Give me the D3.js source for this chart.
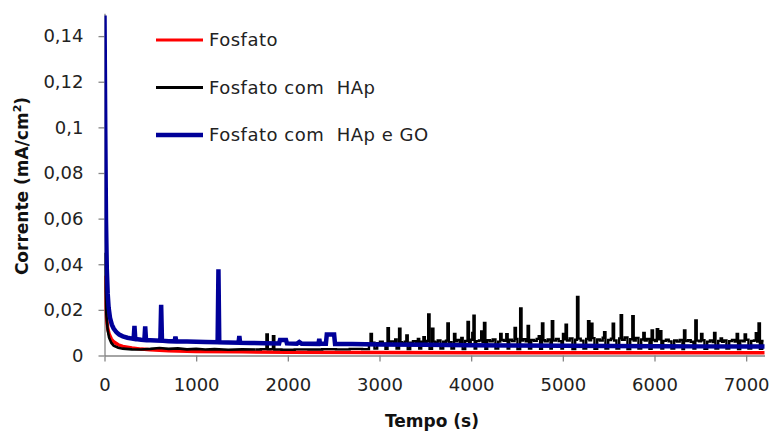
<!DOCTYPE html>
<html><head><meta charset="utf-8">
<script src="https://cdn.jsdelivr.net/npm/d3@7"></script>
<style>
body{margin:0;background:#fff}
svg{display:block}
text{font-family:"DejaVu Sans",Verdana,sans-serif}
</style>
</head><body>
<svg id="chart" width="772" height="432"></svg>
<script>
// ---------- data ----------
const seriesNames = ["Fosfato", "Fosfato com  HAp", "Fosfato com  HAp e GO"];
const seriesColors = ["#ff0000", "#000000", "#000099"];
const xTicks = [0, 1000, 2000, 3000, 4000, 5000, 6000, 7000];
const yTicks = [0, 0.02, 0.04, 0.06, 0.08, 0.1, 0.12, 0.14];
const xTitle = "Tempo (s)";
const yTitle = "Corrente (mA/cm";

// Fosfato (red)
const fosfatoTime  = [0, 10, 20, 35, 50, 75, 100, 150, 200, 300, 400, 500, 700, 1000, 1500, 2000, 3000, 4000, 5000, 6000, 7200];
const fosfatoValue = [0.035, 0.024, 0.017, 0.012, 0.0095, 0.0072, 0.006, 0.0047, 0.004, 0.0033, 0.0028, 0.0025, 0.0021, 0.0018, 0.0016, 0.0014, 0.0013, 0.0012, 0.0012, 0.0012, 0.0012];

// Fosfato com HAp (black) - early decay part
const hapTime  = [0, 10, 20, 35, 50, 75, 100, 150, 200, 300, 400, 500, 600, 700, 800, 900, 1000, 1100, 1200, 1350, 1500, 1650, 1760, 1790, 1830, 1860, 2000, 2150, 2300, 2450, 2600, 2750, 2870];
const hapValue = [0.045, 0.028, 0.018, 0.011, 0.0078, 0.0055, 0.0043, 0.0034, 0.003, 0.0027, 0.0026, 0.0029, 0.0033, 0.0029, 0.0031, 0.0027, 0.0029, 0.0026, 0.0028, 0.0025, 0.0027, 0.0026, 0.0028, 0.0027, 0.0028, 0.0026, 0.0025, 0.0027, 0.0026, 0.0028, 0.0027, 0.0029, 0.0028];
// Fosfato com HAp (black) - noisy part, one reading every 30 s from 2900 s
const hapNoiseStart = 2900;
const hapNoiseStep = 30;
const hapNoise = [
  0.0050,0.0056,0.0030,0.0054,0.0060,0.0052,0.0029,0.0057,0.0062,0.0055,
  0.0031,0.0058,0.0054,0.0061,0.0028,0.0056,0.0063,0.0057,0.0030,0.0060,
  0.0058,0.0064,0.0029,0.0061,0.0057,0.0066,0.0031,0.0060,0.0065,0.0058,
  0.0030,0.0062,0.0068,0.0059,0.0028,0.0064,0.0060,0.0069,0.0031,0.0063,
  0.0066,0.0060,0.0029,0.0067,0.0062,0.0070,0.0030,0.0061,0.0068,0.0064,
  0.0031,0.0069,0.0063,0.0072,0.0028,0.0066,0.0071,0.0062,0.0030,0.0068,
  0.0064,0.0073,0.0029,0.0067,0.0062,0.0070,0.0031,0.0065,0.0072,0.0063,
  0.0030,0.0071,0.0066,0.0075,0.0028,0.0069,0.0074,0.0065,0.0031,0.0072,
  0.0067,0.0076,0.0029,0.0070,0.0065,0.0078,0.0030,0.0068,0.0074,0.0066,
  0.0031,0.0075,0.0069,0.0079,0.0028,0.0071,0.0066,0.0077,0.0030,0.0070,
  0.0065,0.0072,0.0029,0.0068,0.0063,0.0071,0.0031,0.0064,0.0069,0.0062,
  0.0030,0.0066,0.0061,0.0068,0.0028,0.0063,0.0067,0.0060,0.0031,0.0065,
  0.0062,0.0067,0.0029,0.0061,0.0066,0.0059,0.0030,0.0064,0.0060,0.0066,
  0.0031,0.0063,0.0068,0.0061,0.0028,0.0065,0.0062,0.0069,0.0030,0.0064,
  0.0066,0.0061,0.0029,0.0064
];
// Fosfato com HAp (black) - spikes
const hapSpikeTime  = [1773,1845,2905,3095,3172,3227,3296,3427,3488,3532,3586,3742,3826,3895,3971,4014,4036,4119,4150,4324,4396,4487,4549,4622,4744,4785,4880,5003,5030,5160,5280,5316,5450,5548,5632,5766,5886,5977,6030,6070,6324,6451,6516,6650,6733,6903,6987,7110,7140];
const hapSpikeValue = [0.0092,0.0085,0.0095,0.012,0.007,0.0117,0.0088,0.0073,0.008,0.018,0.0117,0.014,0.0095,0.0077,0.0147,0.0099,0.0175,0.0105,0.0143,0.0095,0.0093,0.0121,0.0206,0.0129,0.0085,0.014,0.015,0.0095,0.0135,0.0257,0.015,0.0139,0.0102,0.0139,0.0177,0.0172,0.0099,0.011,0.0115,0.0107,0.011,0.0154,0.0095,0.0099,0.0075,0.0095,0.0092,0.0098,0.014];

// Fosfato com HAp e GO (blue)
const goTime  = [0,8,16,25,35,45,60,80,100,130,160,200,250,300,318,327,336,360,400,435,444,453,500,560,609,618,627,700,765,774,783,900,1000,1100,1234,1243,1252,1350,1462,1471,1480,1600,1750,1905,1915,1980,1990,2100,2125,2150,2334,2343,2352,2415,2425,2505,2515,2700,3000,3500,4000,4500,5000,5500,6000,6500,7000,7200];
const goValue = [0.149,0.1,0.06,0.038,0.027,0.021,0.0165,0.0135,0.0118,0.0102,0.0092,0.0084,0.0078,0.0074,0.0073,0.013,0.0072,0.0071,0.0069,0.0068,0.0128,0.0068,0.0067,0.0066,0.0065,0.0222,0.0065,0.0063,0.0062,0.0083,0.0062,0.0061,0.006,0.0059,0.0058,0.0378,0.0058,0.0057,0.0056,0.0085,0.0056,0.0055,0.0054,0.0053,0.0068,0.0068,0.0053,0.0052,0.0059,0.0052,0.0051,0.0073,0.0051,0.0051,0.0092,0.0092,0.005,0.005,0.0048,0.0047,0.0045,0.0044,0.0043,0.0042,0.0041,0.004,0.004,0.0039];

// ---------- build tables ----------
const fosfatoData = fosfatoTime.map((t, i) => ({t, v: fosfatoValue[i]}));
const hapData = hapTime.map((t, i) => ({t, v: hapValue[i]}))
  .concat(hapNoise.map((v, i) => ({t: hapNoiseStart + i * hapNoiseStep, v})))
  .concat(hapSpikeTime.map((t, i) => ({t, v: hapSpikeValue[i]})))
  .sort((a, b) => a.t - b.t);
const hapSmooth = hapData.filter(d => d.t <= 1650);
const hapNoisy = hapData.filter(d => d.t >= 1650);
const goData = goTime.map((t, i) => ({t, v: goValue[i]}));

// ---------- chart ----------
const svg = d3.select("#chart");
const x = d3.scaleLinear().domain([0, 7200]).range([104.5, 764.5]);
const y = d3.scaleLinear().domain([0, 0.15]).range([355.5, 13.3]);
const fmt = d => d === 0 ? "0" : String(+d.toFixed(2)).replace(".", ",");
const axisColor = "#868686";
const textColor = "#222";

svg.append("defs").append("clipPath").attr("id", "plot")
  .append("rect").attr("x", 104.5).attr("y", 13.3).attr("width", 662).attr("height", 342.2);

// y axis
const gy = svg.append("g").attr("transform", "translate(104.5,0)")
  .call(d3.axisLeft(y).tickValues(yTicks).tickFormat(fmt).tickSize(6).tickSizeOuter(0).tickPadding(15));
gy.select(".domain").attr("stroke", axisColor).attr("stroke-width", 1.3);
gy.selectAll(".tick line").attr("stroke", axisColor).attr("stroke-width", 1.3);
gy.selectAll(".tick text").attr("fill", textColor).style("font-size", "18px")
  .attr("font-family", "DejaVu Sans, Verdana, sans-serif");

// x axis
const gx = svg.append("g").attr("transform", "translate(0,355.5)")
  .call(d3.axisBottom(x).tickValues(xTicks).tickFormat(d3.format("d")).tickSize(6).tickSizeOuter(0).tickPadding(17));
gx.select(".domain").attr("stroke", axisColor).attr("stroke-width", 1.3);
gx.selectAll(".tick line").attr("stroke", axisColor).attr("stroke-width", 1.3);
gx.selectAll(".tick text").attr("fill", textColor).style("font-size", "18px")
  .attr("font-family", "DejaVu Sans, Verdana, sans-serif");

// titles
svg.append("text").attr("x", 432).attr("y", 427).attr("text-anchor", "middle")
  .attr("font-weight", "bold").style("font-size", "17px").attr("fill", "#111").text(xTitle);
const yt = svg.append("text").attr("transform", "translate(28,186) rotate(-90)")
  .attr("text-anchor", "middle").attr("font-weight", "bold").style("font-size", "17px").attr("fill", "#111");
yt.append("tspan").text(yTitle);
yt.append("tspan").attr("dy", -7).style("font-size", "11px").text("2");
yt.append("tspan").attr("dy", 7).text(")");

// lines
const line = d3.line().x(d => x(d.t)).y(d => y(d.v));
const stepLine = d3.line().curve(d3.curveStep).x(d => x(d.t)).y(d => y(d.v));
const plot = svg.append("g").attr("clip-path", "url(#plot)");
function addPath(data, gen, color, w) {
  plot.append("path").datum(data).attr("d", gen)
    .attr("fill", "none").attr("stroke", color).attr("stroke-width", w)
    .attr("stroke-linejoin", "miter").attr("stroke-linecap", "butt");
}
addPath(fosfatoData, line, seriesColors[0], 3.5);
addPath(hapSmooth, line, seriesColors[1], 2.6);
addPath(hapNoisy, stepLine, seriesColors[1], 2.4);
addPath(goData, line, seriesColors[2], 4.5);

// legend
const legendY = [40, 87.5, 135];
const legendW = [3, 3, 4.5];
const lg = svg.append("g");
seriesNames.forEach((name, i) => {
  lg.append("line").attr("x1", 156).attr("x2", 203).attr("y1", legendY[i]).attr("y2", legendY[i])
    .attr("stroke", seriesColors[i]).attr("stroke-width", legendW[i]);
  lg.append("text").attr("x", 209).attr("y", legendY[i]).attr("dy", "0.36em")
    .style("font-size", "18px").style("letter-spacing", "0.5px").style("white-space", "pre")
    .attr("fill", textColor).text(name);
});
</script>
</body></html>
